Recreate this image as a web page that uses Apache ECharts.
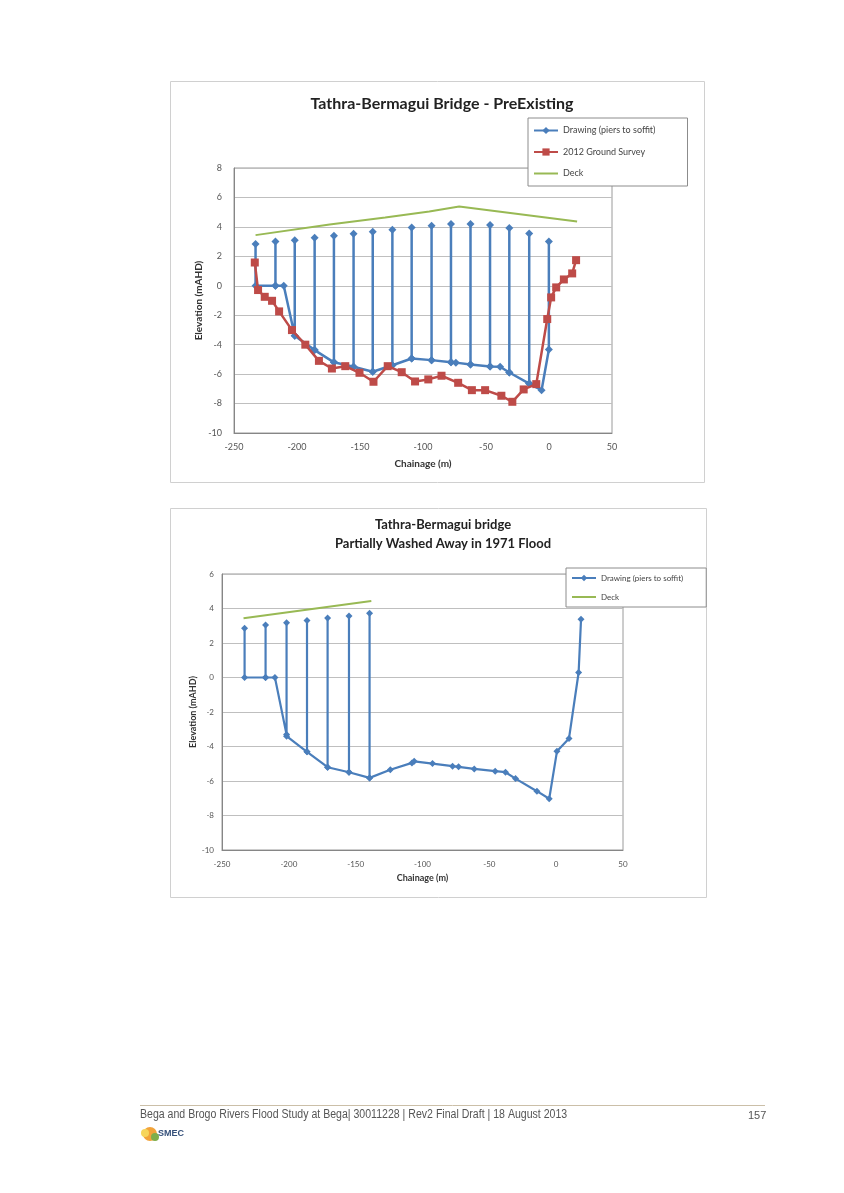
<!DOCTYPE html>
<html><head><meta charset="utf-8">
<script src="https://cdn.jsdelivr.net/npm/echarts@6/dist/echarts.min.js"></script>
<style>html,body{margin:0;padding:0;background:#fff}#c{width:844px;height:1193px}</style>
</head><body><div id="c"></div>
<script>
// ---------- Chart 1 : PreExisting ----------
const topTitle = 'Tathra-Bermagui Bridge - PreExisting';
const topDrawChainage = [-232.9,-232.9,-217.1,-217.1,-217.1,-210.5,-201.8,-201.8,-201.8,-186.0,-186.0,-186.0,-170.7,-170.7,-170.7,-155.1,-155.1,-155.1,-139.9,-139.9,-139.9,-124.3,-124.3,-124.3,-109.0,-109.0,-109.0,-93.2,-93.2,-93.2,-77.8,-77.8,-77.8,-73.9,-62.3,-62.3,-62.3,-46.8,-46.8,-46.8,-38.8,-31.5,-31.5,-31.5,-15.7,-15.7,-15.7,-5.9,-0.1,-0.1];
const topDrawElev     = [2.83,0,0,3.0,0,0,-3.4,3.1,-3.4,-4.37,3.26,-4.37,-5.2,3.4,-5.2,-5.5,3.53,-5.5,-5.84,3.67,-5.84,-5.4,3.8,-5.4,-4.94,3.96,-4.94,-5.05,4.07,-5.05,-5.2,4.2,-5.2,-5.22,-5.34,4.2,-5.34,-5.48,4.12,-5.48,-5.5,-5.89,3.92,-5.89,-6.64,3.55,-6.64,-7.09,-4.33,3.0];
const surveyChainage  = [-233.5,-230.9,-225.6,-219.8,-214.2,-204.0,-193.4,-182.6,-172.3,-161.7,-150.4,-139.3,-128.0,-116.9,-106.3,-95.8,-85.3,-72.1,-61.2,-50.7,-37.8,-29.1,-20.1,-10.1,-1.4,1.7,5.7,11.8,18.4,21.5];
const surveyElev      = [1.58,-0.29,-0.75,-1.02,-1.74,-3.01,-4.0,-5.1,-5.62,-5.46,-5.91,-6.52,-5.46,-5.87,-6.5,-6.36,-6.11,-6.59,-7.09,-7.09,-7.47,-7.88,-7.04,-6.68,-2.26,-0.79,-0.11,0.43,0.84,1.74];
const topDeckChainage = [-232.9,-174.1,-130,-95,-71.3,22.3];
const topDeckElev     = [3.44,4.17,4.64,5.05,5.39,4.37];

// ---------- Chart 2 : Partially washed away ----------
const botTitle = 'Tathra-Bermagui bridge\nPartially Washed Away in 1971 Flood';
const botDrawChainage = [-233.1,-233.1,-217.4,-217.4,-217.4,-210.4,-201.7,-201.7,-201.7,-186.4,-186.4,-186.4,-171.0,-171.0,-171.0,-155.0,-155.0,-155.0,-139.6,-139.6,-139.6,-124.1,-107.9,-106.2,-92.5,-77.5,-73.0,-61.3,-45.6,-37.9,-30.4,-14.4,-5.2,0.6,9.6,16.8,18.6];
const botDrawElev     = [2.86,0,0,3.05,0,0,-3.31,3.18,-3.4,-4.31,3.3,-4.31,-5.2,3.45,-5.2,-5.49,3.57,-5.49,-5.82,3.72,-5.82,-5.35,-4.95,-4.86,-4.99,-5.14,-5.18,-5.3,-5.43,-5.49,-5.86,-6.59,-7.03,-4.28,-3.53,0.29,3.37];
const botDeckChainage = [-233.9,-138.3];
const botDeckElev     = [3.43,4.43];

// ---------- Axes ----------
const xMin = -250, xMax = 50, xStep = 50;
const topYMin = -10, topYMax = 8, botYMin = -10, botYMax = 6, yStep = 2;

const nameDraw = 'Drawing (piers to soffit)', nameSurvey = '2012 Ground Survey', nameDeck = 'Deck';
const footerText = 'Bega and Brogo Rivers Flood Study at Bega| 30011228 | Rev2 Final Draft | 18 August 2013';
const pageNo = '157';

const zip = (a, b) => a.map((v, i) => [v, b[i]]);
const BLUE = '#4a7ebb', RED = '#be4b48', GREEN = '#98b954';
const FONT = 'Lato, "Open Sans", sans-serif';
const LINE_ICON = 'path://M0,0 L24,0 L24,2 L0,2 Z';

function xAxis(grid, fs, gap) {
  return {
    type: 'value', gridIndex: grid, min: xMin, max: xMax, interval: xStep,
    name: 'Chainage (m)', nameLocation: 'middle', nameGap: gap,
    nameTextStyle: { fontFamily: FONT, fontWeight: 'bold', fontSize: fs + 1, color: '#333' },
    axisLine: { show: true, onZero: false, lineStyle: { color: '#868686' } },
    axisTick: { show: false }, splitLine: { show: false },
    axisLabel: { fontFamily: FONT, fontSize: fs, color: '#555', margin: 10 }
  };
}
function yAxis(grid, min, max, fs, gap, margin) {
  return {
    type: 'value', gridIndex: grid, min: min, max: max, interval: yStep,
    name: 'Elevation (mAHD)', nameLocation: 'middle', nameGap: gap,
    nameTextStyle: { fontFamily: FONT, fontWeight: 'bold', fontSize: fs + 1, color: '#333' },
    axisLine: { show: true, onZero: false, lineStyle: { color: '#868686' } },
    axisTick: { show: false },
    splitLine: { show: true, lineStyle: { color: '#bfbfbf', width: 1 } },
    axisLabel: { fontFamily: FONT, fontSize: fs, color: '#555', margin: margin }
  };
}

const chart = echarts.init(document.getElementById('c'), null, { renderer: 'canvas' });
chart.setOption({
  animation: false,
  backgroundColor: '#fff',
  title: [
    { text: topTitle, left: 437, top: 91, textAlign: 'center',
      textStyle: { fontFamily: FONT, fontWeight: 'bold', fontSize: 16, color: '#222' } },
    { text: botTitle, left: 438, top: 510, textAlign: 'center',
      textStyle: { fontFamily: FONT, fontWeight: 'bold', fontSize: 13, color: '#222', lineHeight: 19 } }
  ],
  legend: [
    { orient: 'vertical', left: 528, top: 118, itemWidth: 24, itemHeight: 9, itemGap: 12.5,
      padding: [8, 32, 8, 5], borderColor: '#8c8c8c', borderWidth: 1, backgroundColor: '#fff',
      data: [nameDraw, nameSurvey, { name: nameDeck, icon: LINE_ICON }],
      textStyle: { fontFamily: FONT, fontSize: 9, color: '#444' } },
    { orient: 'vertical', left: 566, top: 568, itemWidth: 24, itemHeight: 8, itemGap: 11,
      padding: [6, 23, 6, 5], borderColor: '#8c8c8c', borderWidth: 1, backgroundColor: '#fff',
      data: [nameDraw, { name: nameDeck, icon: LINE_ICON }],
      textStyle: { fontFamily: FONT, fontSize: 8, color: '#444' } }
  ],
  grid: [
    { left: 234, top: 168, width: 378, height: 265, show: true, borderColor: '#9a9a9a', borderWidth: 1, backgroundColor: 'transparent' },
    { left: 222, top: 574, width: 401, height: 276, show: true, borderColor: '#9a9a9a', borderWidth: 1, backgroundColor: 'transparent' }
  ],
  xAxis: [xAxis(0, 9, 26), xAxis(1, 8, 24)],
  yAxis: [yAxis(0, topYMin, topYMax, 9, 30, 12), yAxis(1, botYMin, botYMax, 8, 21, 8)],
  series: [
    { name: nameDraw, type: 'line', xAxisIndex: 0, yAxisIndex: 0, data: zip(topDrawChainage, topDrawElev),
      symbol: 'diamond', symbolSize: 8, lineStyle: { color: BLUE, width: 2.5 }, itemStyle: { color: BLUE }, z: 2 },
    { name: nameSurvey, type: 'line', xAxisIndex: 0, yAxisIndex: 0, data: zip(surveyChainage, surveyElev),
      symbol: 'rect', symbolSize: 8, lineStyle: { color: RED, width: 2.5 }, itemStyle: { color: RED }, z: 3 },
    { name: nameDeck, type: 'line', xAxisIndex: 0, yAxisIndex: 0, data: zip(topDeckChainage, topDeckElev),
      symbol: 'none', showSymbol: false, lineStyle: { color: GREEN, width: 2 }, itemStyle: { color: GREEN }, z: 2 },
    { name: nameDraw, type: 'line', xAxisIndex: 1, yAxisIndex: 1, data: zip(botDrawChainage, botDrawElev),
      symbol: 'diamond', symbolSize: 7, lineStyle: { color: BLUE, width: 2.2 }, itemStyle: { color: BLUE }, z: 2 },
    { name: nameDeck, type: 'line', xAxisIndex: 1, yAxisIndex: 1, data: zip(botDeckChainage, botDeckElev),
      symbol: 'none', showSymbol: false, lineStyle: { color: GREEN, width: 2 }, itemStyle: { color: GREEN }, z: 2 }
  ],
  graphic: [
    { type: 'rect', shape: { x: 170.5, y: 81.5, width: 534, height: 401 }, style: { fill: 'none', stroke: '#d0d0d0', lineWidth: 1 }, z: -1 },
    { type: 'rect', shape: { x: 170.5, y: 508.5, width: 536, height: 389 }, style: { fill: 'none', stroke: '#d0d0d0', lineWidth: 1 }, z: -1 },
    { type: 'line', shape: { x1: 140, y1: 1105.5, x2: 765, y2: 1105.5 }, style: { stroke: '#cbbfa8', lineWidth: 1 } },
    { type: 'text', x: 140, y: 1109, scaleX: 0.88, originX: 0, style: { text: footerText, fontFamily: '"Liberation Sans", sans-serif', fontSize: 12, fill: '#555' } },
    { type: 'text', x: 748, y: 1110, style: { text: pageNo, fontFamily: '"Liberation Sans", sans-serif', fontSize: 11, fill: '#555' } },
    { type: 'circle', shape: { cx: 150, cy: 1134, r: 7 }, style: { fill: '#f2a33a' } },
    { type: 'circle', shape: { cx: 145, cy: 1133, r: 4 }, style: { fill: '#f6d55c' } },
    { type: 'circle', shape: { cx: 155, cy: 1137, r: 4 }, style: { fill: '#7fae4a' } },
    { type: 'text', x: 158, y: 1129, style: { text: 'SMEC', fontFamily: '"Liberation Sans", sans-serif', fontWeight: 'bold', fontSize: 9, fill: '#35507a' } }
  ]
});
</script></body></html>
